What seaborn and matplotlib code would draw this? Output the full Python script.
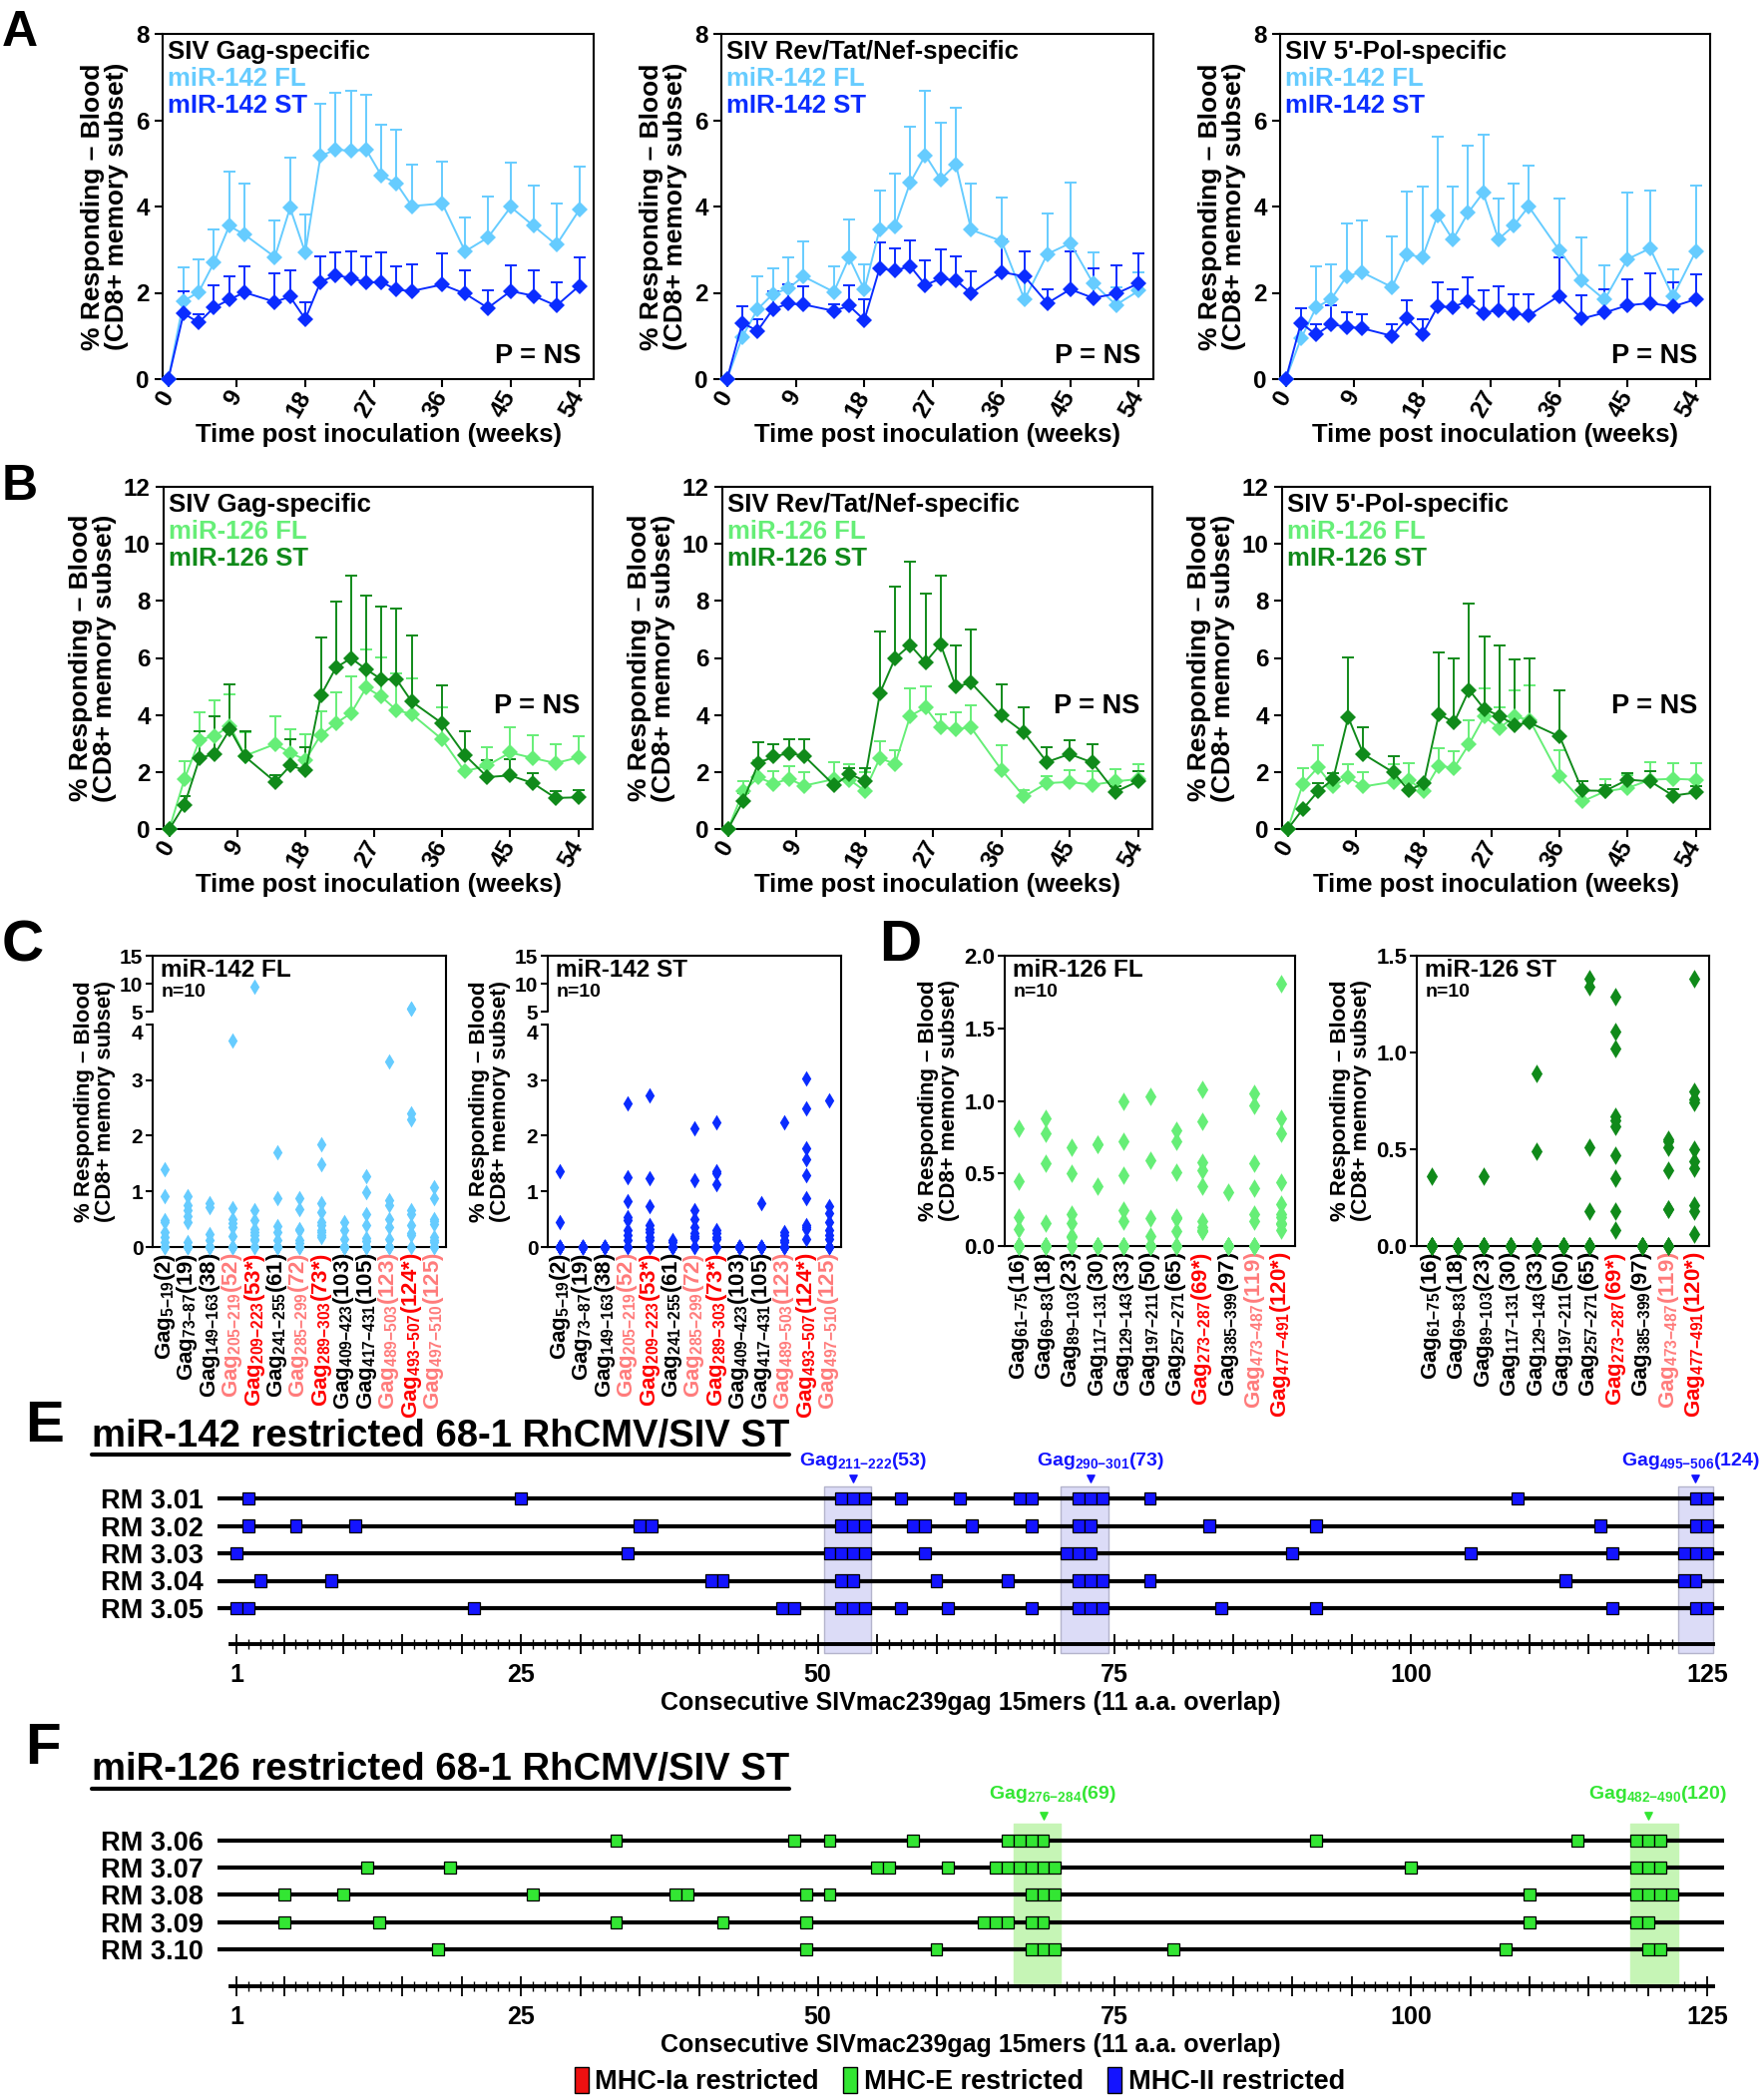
import numpy as np
import pandas as pd
import matplotlib
matplotlib.use("Agg")
import matplotlib.pyplot as plt
from matplotlib.patches import Patch
from matplotlib.lines import Line2D
from matplotlib.ticker import FixedLocator, FuncFormatter
import seaborn as sns

sns.set_style("ticks")
plt.rcParams["font.family"] = ["Liberation Sans", "DejaVu Sans"]
plt.rcParams["font.weight"] = "bold"
plt.rcParams["axes.labelweight"] = "bold"
plt.rcParams["mathtext.fontset"] = "custom"
plt.rcParams["mathtext.rm"] = "Liberation Sans:bold"
plt.rcParams["mathtext.bf"] = "Liberation Sans:bold"
plt.rcParams["mathtext.it"] = "Liberation Sans:bold"
plt.rcParams["mathtext.default"] = "rm"
plt.rcParams["axes.linewidth"] = 1.5
plt.rcParams["axes.edgecolor"] = "black"
plt.rcParams["xtick.color"] = "black"
plt.rcParams["ytick.color"] = "black"
plt.rcParams["text.color"] = "black"
plt.rcParams["axes.labelcolor"] = "black"

# ---------------- data: panels A / B (mean and top of SEM bar) ----------------
weeks = [0, 2, 4, 6, 8, 10, 14, 16, 18, 20, 22, 24, 26, 28, 30, 32, 36, 39, 42, 45, 48, 51, 54]
week_ticks = [0, 9, 18, 27, 36, 45, 54]

a_gag_fl = [0, 1.81, 2.02, 2.70, 3.55, 3.35, 2.83, 3.97, 2.93, 5.17, 5.32, 5.29, 5.32, 4.72, 4.53, 4.01, 4.07, 2.96, 3.28, 3.99, 3.55, 3.11, 3.92]
a_gag_fl_hi = [0, 2.58, 2.78, 3.47, 4.80, 4.54, 3.67, 5.13, 3.82, 6.38, 6.64, 6.69, 6.60, 5.89, 5.78, 4.98, 5.04, 3.74, 4.24, 5.02, 4.48, 4.07, 4.92]
a_gag_st = [0, 1.52, 1.31, 1.66, 1.84, 2.01, 1.79, 1.91, 1.39, 2.25, 2.41, 2.34, 2.24, 2.25, 2.07, 2.04, 2.19, 1.98, 1.65, 2.04, 1.93, 1.70, 2.16]
a_gag_st_hi = [0, 2.04, 1.51, 2.17, 2.38, 2.61, 2.45, 2.53, 1.79, 2.84, 2.93, 2.97, 2.85, 2.93, 2.62, 2.66, 2.92, 2.51, 2.06, 2.63, 2.51, 2.24, 2.81]

a_rtn_fl = [0, 0.98, 1.62, 1.97, 2.10, 2.38, 2.02, 2.82, 2.07, 3.47, 3.53, 4.55, 5.19, 4.63, 4.98, 3.46, 3.20, 1.84, 2.90, 3.15, 2.22, 1.72, 2.05]
a_rtn_fl_hi = [0, 1.27, 2.37, 2.56, 2.81, 3.18, 2.62, 3.70, 2.65, 4.38, 4.77, 5.84, 6.68, 5.95, 6.29, 4.54, 4.21, 2.35, 3.84, 4.55, 2.93, 2.13, 2.48]
a_rtn_st = [0, 1.30, 1.12, 1.62, 1.75, 1.73, 1.58, 1.70, 1.37, 2.57, 2.51, 2.62, 2.18, 2.33, 2.29, 1.99, 2.48, 2.38, 1.76, 2.08, 1.88, 1.98, 2.22]
a_rtn_st_hi = [0, 1.68, 1.39, 2.04, 2.19, 2.15, 1.74, 2.17, 1.84, 3.16, 3.04, 3.21, 2.76, 3.01, 2.84, 2.50, 3.24, 2.95, 2.08, 2.96, 2.56, 2.64, 2.92]

a_pol_fl = [0, 0.94, 1.66, 1.86, 2.38, 2.48, 2.13, 2.89, 2.82, 3.80, 3.23, 3.85, 4.32, 3.24, 3.55, 4.00, 2.99, 2.28, 1.84, 2.78, 3.03, 1.91, 2.96]
a_pol_fl_hi = [0, 1.27, 2.62, 2.67, 3.61, 3.67, 3.30, 4.35, 4.47, 5.62, 4.46, 5.40, 5.67, 4.18, 4.53, 4.95, 4.18, 3.29, 2.63, 4.33, 4.38, 2.54, 4.49]
a_pol_st = [0, 1.30, 1.03, 1.27, 1.21, 1.18, 1.00, 1.41, 1.04, 1.68, 1.67, 1.81, 1.53, 1.60, 1.53, 1.47, 1.93, 1.40, 1.54, 1.71, 1.76, 1.68, 1.85]
a_pol_st_hi = [0, 1.64, 1.27, 1.70, 1.54, 1.51, 1.27, 1.83, 1.39, 2.24, 2.08, 2.36, 2.06, 2.16, 1.97, 1.97, 2.81, 1.95, 2.08, 2.31, 2.45, 2.25, 2.43]

b_gag_fl = [0, 1.75, 3.13, 3.27, 3.62, 2.57, 2.98, 2.66, 2.43, 3.30, 3.71, 4.06, 4.96, 4.64, 4.17, 4.03, 3.15, 2.02, 2.23, 2.68, 2.49, 2.31, 2.51]
b_gag_fl_hi = [0, 2.39, 4.10, 4.53, 4.74, 3.40, 3.97, 3.51, 3.33, 4.12, 4.78, 5.34, 6.31, 6.01, 5.46, 5.29, 4.26, 2.02, 2.87, 3.57, 3.30, 2.99, 3.27]
b_gag_st = [0, 0.85, 2.49, 2.63, 3.50, 2.54, 1.65, 2.23, 2.05, 4.68, 5.66, 5.99, 5.60, 5.25, 5.25, 4.47, 3.71, 2.60, 1.82, 1.88, 1.61, 1.09, 1.11]
b_gag_st_hi = [0, 1.17, 3.44, 3.94, 5.09, 3.44, 1.90, 3.16, 2.88, 6.73, 7.97, 8.90, 8.20, 7.79, 7.74, 6.78, 5.05, 3.44, 2.43, 2.45, 1.97, 1.32, 1.38]

b_rtn_fl = [0, 1.32, 1.81, 1.59, 1.76, 1.52, 1.75, 1.73, 1.34, 2.49, 2.28, 3.97, 4.26, 3.56, 3.51, 3.56, 2.08, 1.14, 1.61, 1.65, 1.55, 1.67, 1.75]
b_rtn_fl_hi = [0, 1.67, 2.43, 2.02, 2.19, 1.98, 2.35, 2.29, 2.00, 3.09, 2.76, 4.94, 5.00, 4.04, 4.10, 4.35, 2.95, 1.38, 1.84, 2.08, 2.02, 2.11, 2.28]
b_rtn_st = [0, 0.99, 2.31, 2.54, 2.66, 2.57, 1.53, 1.93, 1.69, 4.76, 5.99, 6.45, 5.85, 6.48, 4.99, 5.13, 3.98, 3.38, 2.35, 2.63, 2.33, 1.30, 1.67]
b_rtn_st_hi = [0, 1.26, 3.05, 2.98, 3.15, 3.15, 1.75, 2.14, 2.13, 6.92, 8.49, 9.39, 8.26, 8.90, 6.42, 6.98, 5.09, 4.26, 2.86, 3.13, 2.98, 1.49, 2.02]

b_pol_fl = [0, 1.58, 2.16, 1.49, 1.82, 1.49, 1.66, 1.73, 1.32, 2.22, 2.14, 2.98, 3.94, 3.54, 3.94, 3.83, 1.84, 0.97, 1.32, 1.44, 1.73, 1.76, 1.73]
b_pol_fl_hi = [0, 2.14, 2.95, 1.80, 2.27, 2.00, 2.27, 2.31, 1.61, 2.84, 2.72, 3.80, 4.94, 4.26, 4.86, 5.04, 2.77, 0.97, 1.76, 1.90, 2.35, 2.31, 2.31]
b_pol_st = [0, 0.70, 1.32, 1.75, 3.92, 2.63, 1.98, 1.35, 1.61, 4.04, 3.73, 4.88, 4.21, 3.97, 3.65, 3.73, 3.24, 1.35, 1.34, 1.73, 1.67, 1.17, 1.28]
b_pol_st_hi = [0, 0.70, 1.61, 1.97, 6.02, 3.58, 2.54, 1.35, 1.64, 6.18, 5.99, 7.90, 6.74, 6.45, 5.95, 5.99, 4.85, 1.67, 1.55, 1.95, 2.02, 1.39, 1.51]

# ---------------- data: panels C / D (individual animals) ----------------
c_labels = [r"Gag$_{5{-}19}$(2)", r"Gag$_{73{-}87}$(19)", r"Gag$_{149{-}163}$(38)",
            r"Gag$_{205{-}219}$(52)", r"Gag$_{209{-}223}$(53*)", r"Gag$_{241{-}255}$(61)",
            r"Gag$_{285{-}299}$(72)", r"Gag$_{289{-}303}$(73*)", r"Gag$_{409{-}423}$(103)",
            r"Gag$_{417{-}431}$(105)", r"Gag$_{489{-}503}$(123)", r"Gag$_{493{-}507}$(124*)",
            r"Gag$_{497{-}510}$(125)"]
c_label_kind = ["k", "k", "k", "p", "r", "k", "p", "r", "k", "k", "p", "r", "p"]

c_fl_values = [
    [1.39, 0.91, 0.48, 0.45, 0.27, 0.18, 0.09, 0, 0, 0],
    [0.91, 0.76, 0.67, 0.55, 0.45, 0.09, 0, 0, 0, 0],
    [0.79, 0.72, 0.24, 0.13, 0, 0, 0, 0, 0, 0],
    [3.71, 0.70, 0.51, 0.43, 0.36, 0.19, 0, 0, 0, 0],
    [9.56, 0.66, 0.48, 0.33, 0.27, 0.21, 0.15, 0.12, 0, 0],
    [1.71, 0.87, 0.37, 0.27, 0.12, 0, 0, 0, 0, 0],
    [0.88, 0.68, 0.33, 0.30, 0.12, 0.07, 0, 0, 0, 0],
    [1.84, 1.48, 0.79, 0.63, 0.45, 0.40, 0.30, 0.27, 0.21, 0.18],
    [0.45, 0.30, 0.15, 0, 0, 0, 0, 0, 0, 0],
    [1.28, 0.98, 0.60, 0.39, 0.17, 0.11, 0, 0, 0, 0],
    [3.34, 0.84, 0.76, 0.51, 0.36, 0.15, 0, 0, 0, 0],
    [5.6, 5.6, 2.40, 2.30, 0.66, 0.60, 0.39, 0.25, 0.21, 0],
    [1.07, 0.88, 0.51, 0.47, 0.41, 0.18, 0.12, 0.09, 0, 0],
]
c_st_values = [
    [1.36, 0.45, 0, 0, 0, 0, 0, 0, 0, 0],
    [0, 0, 0, 0, 0, 0, 0, 0, 0, 0],
    [0, 0, 0, 0, 0, 0, 0, 0, 0, 0],
    [2.58, 1.25, 0.82, 0.54, 0.49, 0.31, 0.21, 0.12, 0, 0],
    [2.73, 1.23, 0.73, 0.39, 0.33, 0.27, 0.18, 0.13, 0, 0],
    [0.12, 0.09, 0, 0, 0, 0, 0, 0, 0, 0],
    [2.13, 1.21, 0.66, 0.51, 0.36, 0.25, 0.19, 0.17, 0, 0],
    [2.25, 1.36, 1.33, 1.13, 0.30, 0.25, 0.18, 0.15, 0, 0],
    [0, 0, 0, 0, 0, 0, 0, 0, 0, 0],
    [0.79, 0, 0, 0, 0, 0, 0, 0, 0, 0],
    [2.24, 0.27, 0.21, 0.12, 0.09, 0, 0, 0, 0, 0],
    [3.03, 2.49, 1.77, 1.58, 1.30, 0.88, 0.39, 0.36, 0.33, 0.15],
    [2.64, 0.73, 0.61, 0.45, 0.30, 0.21, 0.15, 0, 0, 0],
]

d_labels = [r"Gag$_{61{-}75}$(16)", r"Gag$_{69{-}83}$(18)", r"Gag$_{89{-}103}$(23)",
            r"Gag$_{117{-}131}$(30)", r"Gag$_{129{-}143}$(33)", r"Gag$_{197{-}211}$(50)",
            r"Gag$_{257{-}271}$(65)", r"Gag$_{273{-}287}$(69*)", r"Gag$_{385{-}399}$(97)",
            r"Gag$_{473{-}487}$(119)", r"Gag$_{477{-}491}$(120*)"]
d_label_kind = ["k", "k", "k", "k", "k", "k", "k", "r", "k", "p", "r"]

d_fl_values = [
    [0.81, 0.45, 0.20, 0.12, 0, 0, 0, 0, 0, 0],
    [0.88, 0.78, 0.57, 0.16, 0, 0, 0, 0, 0, 0],
    [0.68, 0.50, 0.22, 0.16, 0.07, 0.06, 0, 0, 0, 0],
    [0.70, 0.70, 0.41, 0, 0, 0, 0, 0, 0, 0],
    [1.00, 0.72, 0.49, 0.25, 0.17, 0, 0, 0, 0, 0],
    [1.03, 0.59, 0.19, 0.07, 0, 0, 0, 0, 0, 0],
    [0.80, 0.72, 0.51, 0.20, 0.19, 0.19, 0.10, 0, 0, 0],
    [1.08, 0.86, 0.58, 0.52, 0.41, 0.17, 0.13, 0.11, 0.10, 0.10],
    [0.37, 0, 0, 0, 0, 0, 0, 0, 0, 0],
    [1.05, 0.97, 0.57, 0.40, 0.22, 0.17, 0, 0, 0, 0],
    [1.81, 0.88, 0.78, 0.44, 0.29, 0.22, 0.20, 0.16, 0.15, 0.11],
]
d_st_values = [
    [0.36, 0, 0, 0, 0, 0, 0, 0, 0, 0],
    [0, 0, 0, 0, 0, 0, 0, 0, 0, 0],
    [0.36, 0, 0, 0, 0, 0, 0, 0, 0, 0],
    [0, 0, 0, 0, 0, 0, 0, 0, 0, 0],
    [0.89, 0.49, 0, 0, 0, 0, 0, 0, 0, 0],
    [0, 0, 0, 0, 0, 0, 0, 0, 0, 0],
    [1.38, 1.34, 0.51, 0.18, 0, 0, 0, 0, 0, 0],
    [1.29, 1.11, 1.02, 0.67, 0.65, 0.62, 0.47, 0.35, 0.18, 0.08],
    [0, 0, 0, 0, 0, 0, 0, 0, 0, 0],
    [0.55, 0.54, 0.51, 0.39, 0.19, 0.19, 0, 0, 0, 0],
    [1.38, 0.80, 0.76, 0.74, 0.50, 0.44, 0.40, 0.21, 0.18, 0.06],
]

# ---------------- data: panels E / F (epitope maps) ----------------
e_rows = ["RM 3.01", "RM 3.02", "RM 3.03", "RM 3.04", "RM 3.05"]
e_hits = [
    [2, 25, 52, 53, 54, 57, 62, 67, 68, 72, 73, 74, 78, 109, 124, 125],
    [2, 6, 11, 35, 36, 52, 53, 54, 58, 59, 63, 68, 72, 73, 83, 92, 116, 124, 125],
    [1, 34, 51, 52, 53, 54, 59, 71, 72, 73, 90, 105, 117, 123, 124, 125],
    [3, 9, 41, 42, 52, 53, 60, 66, 72, 73, 74, 78, 113, 123, 124],
    [1, 2, 21, 47, 48, 52, 53, 54, 57, 61, 68, 72, 73, 74, 84, 92, 117, 124, 125],
]
e_bands = [(51, 54), (71, 74), (123, 125)]
e_epitopes = [r"Gag$_{211{-}222}$(53)", r"Gag$_{290{-}301}$(73)", r"Gag$_{495{-}506}$(124)"]
e_epitope_pep = [53, 73, 124]

f_rows = ["RM 3.06", "RM 3.07", "RM 3.08", "RM 3.09", "RM 3.10"]
f_hits = [
    [33, 48, 51, 58, 66, 67, 68, 69, 92, 114, 119, 120, 121],
    [12, 19, 55, 56, 61, 65, 66, 67, 68, 69, 70, 100, 119, 120, 121],
    [5, 10, 26, 38, 39, 49, 51, 68, 69, 70, 110, 119, 120, 121, 122],
    [5, 13, 33, 42, 49, 64, 65, 66, 68, 69, 110, 119, 120],
    [18, 49, 60, 68, 69, 70, 80, 108, 120, 121],
]
f_bands = [(67, 70), (119, 122)]
f_epitopes = [r"Gag$_{276{-}284}$(69)", r"Gag$_{482{-}490}$(120)"]
f_epitope_pep = [69, 120]

ruler_labels = [1, 25, 50, 75, 100, 125]
legend_labels = ["MHC-Ia restricted", "MHC-E restricted", "MHC-II restricted"]
legend_colors = ["#EE1111", "#33E633", "#1414FF"]

# colours
C142_FL, C142_ST = "#66CCFF", "#0A2CFF"
C126_FL, C126_ST = "#66EE77", "#108A1A"
LABEL_COL = {"k": "black", "p": "#FF7B7B", "r": "#FF0000"}
YLABEL = "% Responding – Blood\n(CD8+ memory subset)"

W, H = 1768, 2100
fig = plt.figure(figsize=(W / 100, H / 100), dpi=100)


def rect(l, t, r, b):
    return [l / W, 1 - b / H, (r - l) / W, (b - t) / H]


def time_panel(box, fl, fl_hi, st, st_hi, cols, names, title, ymax, p_y):
    ax = fig.add_axes(rect(*box))
    for mean, hi, c in ((fl, fl_hi, cols[0]), (st, st_hi, cols[1])):
        mean = np.asarray(mean, float)
        up = np.clip(np.asarray(hi, float) - mean, 0, None)
        ax.errorbar(weeks, mean, yerr=[np.zeros_like(up), up], fmt="none", ecolor=c,
                    elinewidth=1.4, capsize=4.5, capthick=1.4, zorder=2)
        sns.lineplot(x=weeks, y=mean, ax=ax, color=c, marker="D", markersize=8,
                     markeredgewidth=0, linewidth=1.4, errorbar=None, zorder=3, clip_on=False)
    ax.set_xlim(-0.75, 55.9)
    ax.set_ylim(0, ymax)
    ax.set_yticks(np.arange(0, ymax + 1, 2))
    ax.set_xticks(week_ticks)
    ax.set_xticklabels([str(w) for w in week_ticks], rotation=60, ha="right", va="center",
                       rotation_mode="anchor")
    ax.tick_params(labelsize=17.5, length=6, width=1.5, direction="out")
    ax.set_ylabel(YLABEL, fontsize=19, labelpad=5, linespacing=1.0)
    ax.set_xlabel("Time post inoculation (weeks)", fontsize=18.5, labelpad=1)
    h = box[3] - box[1]
    ax.text(0.012, 1 - 6 / h, title, transform=ax.transAxes, ha="left", va="top", fontsize=18.5)
    ax.text(0.012, 1 - 33 / h, names[0], transform=ax.transAxes, ha="left", va="top",
            fontsize=18.5, color=cols[0])
    ax.text(0.012, 1 - 60 / h, names[1], transform=ax.transAxes, ha="left", va="top",
            fontsize=18.5, color=cols[1])
    ax.text(0.97, p_y, "P = NS", transform=ax.transAxes, ha="right", va="center", fontsize=19.5)
    return ax


def fwd(y):
    y = np.asarray(y, float)
    return np.where(y <= 4, y, np.where(y <= 5, 4 + (y - 4) * 0.227, 4.227 + (y - 5) * 0.101))


def inv(y):
    y = np.asarray(y, float)
    return np.where(y <= 4, y, np.where(y <= 4.227, 4 + (y - 4) / 0.227, 5 + (y - 4.227) / 0.101))


def dot_panel(box, labels, kinds, values, color, title, ymax, yticks, yticklabels, broken, msize):
    ax = fig.add_axes(rect(*box))
    df = pd.DataFrame({
        "pep": np.repeat(labels, [len(v) for v in values]),
        "val": np.concatenate([np.asarray(v, float) for v in values]),
    })
    sns.stripplot(data=df, x="pep", y="val", order=labels, ax=ax, color=color,
                  marker="d", size=msize, jitter=False, linewidth=0)
    for coll in ax.collections:
        coll.set_clip_on(False)
    if broken:
        ax.set_yscale("function", functions=(fwd, inv))
    ax.set_ylim(0, ymax)
    ax.set_xlim(-0.55, len(labels) - 0.45)
    ax.set_yticks(yticks)
    ax.set_yticklabels(yticklabels)
    ax.set_xticks(range(len(labels)))
    ax.set_xticklabels(labels, rotation=90, fontsize=16)
    for t, k in zip(ax.get_xticklabels(), kinds):
        t.set_color(LABEL_COL[k])
    ax.tick_params(axis="x", length=0, pad=4)
    ax.tick_params(axis="y", labelsize=15 if broken else 16, length=5, width=1.5, pad=2)
    ax.set_xlabel("")
    ax.set_ylabel(YLABEL, fontsize=16, labelpad=3, linespacing=1.0)
    if broken:
        ax.spines["left"].set_bounds(0, 4)
        ax.plot([0, 0], [5, ymax], transform=ax.get_yaxis_transform(), color="black",
                lw=1.5, clip_on=False)
        for t, v in zip(ax.get_yticklabels(), yticks):
            if v == 4:
                t.set_verticalalignment("top")
    h = box[3] - box[1]
    ax.text(0.028, 1 - 3 / h, title, transform=ax.transAxes, ha="left", va="top", fontsize=17.5)
    ax.text(0.028, 1 - 28 / h, "n=10", transform=ax.transAxes, ha="left", va="top", fontsize=14)
    return ax


def map_panel(box, ylim, rows, hits, bands, band_y, block_col, band_col, band_edge,
              epitopes, epitope_pep, tri_y, text_y, ruler_y):
    ax = fig.add_axes(rect(*box))
    for a, b in bands:
        ax.fill_between([a - 0.5, b + 0.5], band_y[0], band_y[1], color=band_col,
                        edgecolor=band_edge, lw=1, zorder=1)
    for i, row_hits in enumerate(hits):
        ax.axhline(i, color="black", lw=3, zorder=2)
        ax.bar(row_hits, 0.44, bottom=i - 0.22, width=1.0, color=block_col,
               edgecolor="black", linewidth=0.9, zorder=3)
    ax.scatter(epitope_pep, [tri_y] * len(epitope_pep), marker="v", s=28, color=block_col,
               clip_on=False, zorder=4)
    for lab, p in zip(epitopes, epitope_pep):
        if p > 122:
            ax.text(p + 5.4, text_y, lab, ha="right", va="center", color=block_col,
                    fontsize=14, clip_on=False)
        else:
            ax.text(p + 0.8, text_y, lab, ha="center", va="center", color=block_col,
                    fontsize=14, clip_on=False)
    ax.set_xlim(-0.6, 126.4)
    ax.set_ylim(*ylim)
    ax.set_yticks(range(len(rows)))
    ax.set_yticklabels(rows, fontsize=19.5)
    ax.tick_params(axis="y", length=0, pad=10)
    for s in ("left", "right", "top"):
        ax.spines[s].set_visible(False)
    ax.spines["bottom"].set_position(("data", ruler_y))
    ax.spines["bottom"].set_linewidth(2.8)
    ax.spines["bottom"].set_bounds(0.5, 125.5)
    ax.xaxis.set_major_locator(FixedLocator([1] + list(range(5, 126, 5))))
    ax.xaxis.set_minor_locator(FixedLocator(list(range(1, 126))))
    ax.xaxis.set_major_formatter(FuncFormatter(
        lambda v, pos: str(int(round(v))) if int(round(v)) in ruler_labels else ""))
    ax.tick_params(axis="x", which="major", direction="inout", length=15, width=1.3,
                   labelsize=18, pad=6)
    ax.tick_params(axis="x", which="minor", direction="inout", length=7, width=1)
    ax.set_xlabel("Consecutive SIVmac239gag 15mers (11 a.a. overlap)", fontsize=18, labelpad=3)
    ax.patch.set_alpha(0)
    return ax


# ---- A ----
n142 = ("miR-142 FL", "mIR-142 ST")
time_panel((163, 34, 595, 380), a_gag_fl, a_gag_fl_hi, a_gag_st, a_gag_st_hi,
           (C142_FL, C142_ST), n142, "SIV Gag-specific", 8, 0.066)
time_panel((723, 34, 1156, 380), a_rtn_fl, a_rtn_fl_hi, a_rtn_st, a_rtn_st_hi,
           (C142_FL, C142_ST), n142, "SIV Rev/Tat/Nef-specific", 8, 0.066)
time_panel((1283, 34, 1714, 380), a_pol_fl, a_pol_fl_hi, a_pol_st, a_pol_st_hi,
           (C142_FL, C142_ST), n142, "SIV 5'-Pol-specific", 8, 0.066)

# ---- B ----
n126 = ("miR-126 FL", "mIR-126 ST")
time_panel((164, 488, 594, 831), b_gag_fl, b_gag_fl_hi, b_gag_st, b_gag_st_hi,
           (C126_FL, C126_ST), n126, "SIV Gag-specific", 12, 0.36)
time_panel((724, 488, 1155, 831), b_rtn_fl, b_rtn_fl_hi, b_rtn_st, b_rtn_st_hi,
           (C126_FL, C126_ST), n126, "SIV Rev/Tat/Nef-specific", 12, 0.36)
time_panel((1285, 488, 1714, 831), b_pol_fl, b_pol_fl_hi, b_pol_st, b_pol_st_hi,
           (C126_FL, C126_ST), n126, "SIV 5'-Pol-specific", 12, 0.36)

# ---- C ----
c_ticks = [0, 1, 2, 3, 4, 5, 10, 15]
dot_panel((153, 958, 447, 1250), c_labels, c_label_kind, c_fl_values, C142_FL, "miR-142 FL",
          15, c_ticks, [str(t) for t in c_ticks], True, 8)
dot_panel((549, 958, 843, 1250), c_labels, c_label_kind, c_st_values, C142_ST, "miR-142 ST",
          15, c_ticks, [str(t) for t in c_ticks], True, 8)

# ---- D ----
dot_panel((1007, 958, 1298, 1249), d_labels, d_label_kind, d_fl_values, C126_FL, "miR-126 FL",
          2.0, [0, 0.5, 1.0, 1.5, 2.0], ["0.0", "0.5", "1.0", "1.5", "2.0"], False, 9.5)
dot_panel((1420, 958, 1713, 1249), d_labels, d_label_kind, d_st_values, C126_ST, "miR-126 ST",
          1.5, [0, 0.5, 1.0, 1.5], ["0.0", "0.5", "1.0", "1.5"], False, 9.5)

# ---- E / F ----
map_panel((218, 1474.5, 1728, 1661.5), (5.8, -1.0), e_rows, e_hits, e_bands, (-0.44, 5.64),
          "#1414FF", "#DCDCF7", "#B4B4CC", e_epitopes, e_epitope_pep, -0.73, -1.35, 5.31)
map_panel((218, 1815, 1728, 2003), (5.8, -1.1), f_rows, f_hits, f_bands, (-0.62, 5.25),
          "#33E633", "#C6F5B6", "#C6F5B6", f_epitopes, f_epitope_pep, -0.92, -1.72, 5.36)

# ---- panel letters and titles ----
for letter, x, y, fs in (("A", 2, 10, 36), ("B", 2, 465, 36), ("C", 2, 921, 42),
                         ("D", 881, 921, 42), ("E", 25, 1403, 42), ("F", 25, 1726, 42)):
    fig.text(x / W, 1 - y / H, letter, ha="left", va="top", fontsize=fs)

titles = []
for txt, y in (("miR-142 restricted 68-1 RhCMV/SIV ST", 1440),
               ("miR-126 restricted 68-1 RhCMV/SIV ST", 1774)):
    titles.append(fig.text(92 / W, 1 - y / H, txt, ha="left", va="center", fontsize=27.5))

fig.legend(handles=[Patch(facecolor=c, edgecolor="black", label=l)
                    for c, l in zip(legend_colors, legend_labels)],
           loc="center", bbox_to_anchor=(962 / W, 1 - 2086 / H), ncol=3, frameon=False,
           fontsize=19.5, handlelength=0.5, handleheight=1.1, handletextpad=0.25,
           columnspacing=0.9)

fig.canvas.draw()
for t, y in zip(titles, (1458, 1793)):
    bb = t.get_window_extent()
    fig.add_artist(Line2D([bb.x0 / W, bb.x1 / W], [1 - y / H] * 2,
                          transform=fig.transFigure, color="black", lw=3))

fig.savefig("out.png", dpi=100)
